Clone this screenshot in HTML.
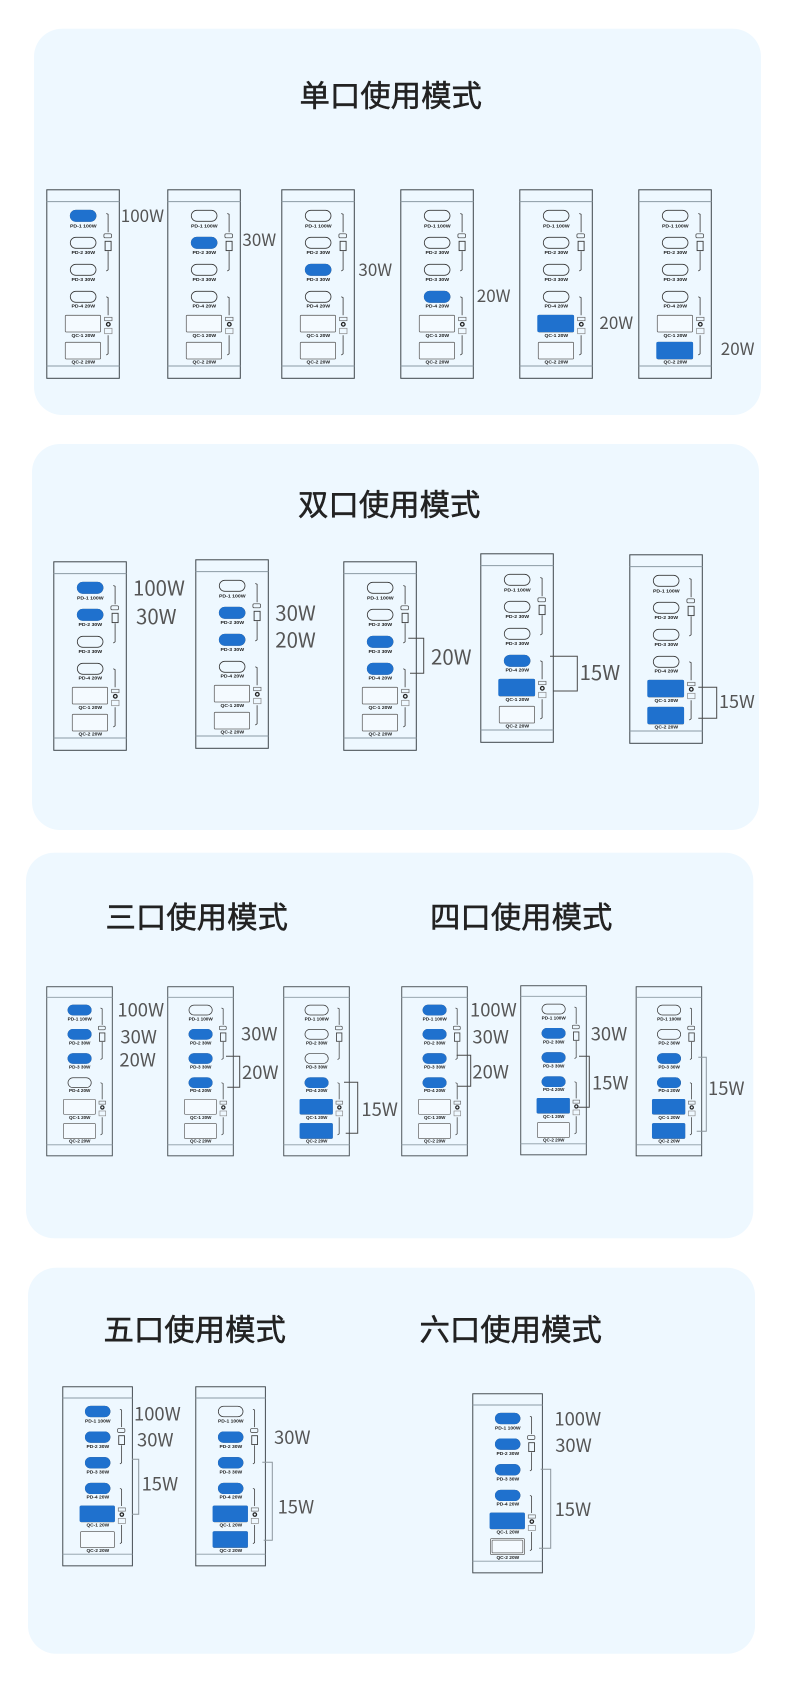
<!DOCTYPE html>
<html lang="zh"><head><meta charset="utf-8"><title>使用模式</title>
<style>
html,body{margin:0;padding:0;background:#fff}
svg{display:block}
.t{font-family:"Liberation Sans","Noto Sans CJK SC",sans-serif;font-size:30.4px;fill:#222;stroke:#222;stroke-width:.5px}
.w{font-family:"Noto Sans CJK SC","Liberation Sans",sans-serif;fill:#555}
.a{font-size:17px}.b{font-size:20.4px}.c{font-size:18.4px}.e{font-size:18px}
.l text{font-family:"Liberation Sans",sans-serif;font-weight:700;font-size:4.7px;fill:#1b1b1b;text-anchor:middle}
.k{fill:none;stroke:#4a4a4a;stroke-width:1}
.g{fill:none;stroke:#8d979e;stroke-width:1}
</style></head><body>
<svg xmlns="http://www.w3.org/2000/svg" width="790" height="1706" viewBox="0 0 790 1706">
<defs>
<g id="d" fill="none">
<rect x=".5" y=".5" width="72.5" height="188.5" stroke="#3f464b" stroke-width="1"/>
<path d="M.5 12.3H73M.5 176.7H73" stroke="#8b9aa4" stroke-width="1"/>
<g stroke="#3a3a3a" stroke-width=".8">
<rect x="24" y="21" width="25.7" height="11" rx="5.5"/>
<rect x="24" y="48" width="25.7" height="11" rx="5.5"/>
<rect x="24" y="75" width="25.7" height="11" rx="5.5"/>
<rect x="24" y="102" width="25.7" height="11" rx="5.5"/>
<rect x="19" y="126" width="35.3" height="16.7" rx="1" stroke="#666" fill="#f4faff"/>
<rect x="19" y="153" width="35.3" height="16.7" rx="1" stroke="#666" fill="#f4faff"/>
<path d="M60 24.2l1.8.8V43M61.8 62V80.5L60 81.7M60 107.5l1.8.8V126M61.8 146V164.5L60 165.7"/>
<rect x="57.6" y="44.5" width="7.6" height="4" rx="1.2" stroke-width=".7"/>
<rect x="58.8" y="52" width="6" height="9.3" stroke-width=".9"/>
<rect x="58.3" y="128" width="7.4" height="3.4" stroke="#666" stroke-width=".7"/>
<circle cx="62" cy="135" r="1.8" stroke="#222" stroke-width="1.3"/>
<rect x="58.3" y="139" width="7.4" height="5.4" stroke="#888" stroke-width=".7"/>
</g>
</g>
<rect id="p1" x="23.6" y="20.6" width="26.4" height="11.8" rx="5.9" fill="#1f71ce"/>
<rect id="p2" x="23.6" y="47.6" width="26.4" height="11.8" rx="5.9" fill="#1f71ce"/>
<rect id="p3" x="23.6" y="74.6" width="26.4" height="11.8" rx="5.9" fill="#1f71ce"/>
<rect id="p4" x="23.6" y="101.6" width="26.4" height="11.8" rx="5.9" fill="#1f71ce"/>
<rect id="q1" x="18" y="125.6" width="36.8" height="17.2" rx="1.6" fill="#1f71ce"/>
<rect id="q2" x="18" y="152.6" width="36.8" height="17.2" rx="1.6" fill="#1f71ce"/>
</defs>

<rect x="34" y="28.7" width="727" height="386.3" rx="28" fill="#eef8ff"/>
<rect x="32" y="444" width="727" height="386" rx="28" fill="#eef8ff"/>
<rect x="26" y="852.7" width="727.3" height="385.6" rx="28" fill="#eef8ff"/>
<rect x="28" y="1267.7" width="727" height="386" rx="28" fill="#eef8ff"/>

<text class="t" x="299.5" y="106.5">单口使用模式</text>
<text class="t" x="298" y="515.5">双口使用模式</text>
<text class="t" x="105.5" y="928">三口使用模式</text>
<text class="t" x="430" y="928">四口使用模式</text>
<text class="t" x="103.5" y="1340.5">五口使用模式</text>
<text class="t" x="419.5" y="1340.5">六口使用模式</text>

<!-- section 1 -->
<g transform="translate(46.3 189.3)"><use href="#d"/><use href="#p1"/><g class="l"><text x="37" y="38" textLength="26.7" lengthAdjust="spacingAndGlyphs">PD-1 100W</text><text x="37" y="64.7" textLength="23.7" lengthAdjust="spacingAndGlyphs">PD-2 30W</text><text x="37" y="91.7" textLength="23.7" lengthAdjust="spacingAndGlyphs">PD-3 30W</text><text x="37" y="118" textLength="23.7" lengthAdjust="spacingAndGlyphs">PD-4 20W</text><text x="37" y="147.7" textLength="23.7" lengthAdjust="spacingAndGlyphs">QC-1 20W</text><text x="37" y="174.4" textLength="23.7" lengthAdjust="spacingAndGlyphs">QC-2 20W</text></g></g>
<g transform="translate(167.3 189.3)"><use href="#d"/><use href="#p2"/><g class="l"><text x="37" y="38" textLength="26.7" lengthAdjust="spacingAndGlyphs">PD-1 100W</text><text x="37" y="64.7" textLength="23.7" lengthAdjust="spacingAndGlyphs">PD-2 30W</text><text x="37" y="91.7" textLength="23.7" lengthAdjust="spacingAndGlyphs">PD-3 30W</text><text x="37" y="118" textLength="23.7" lengthAdjust="spacingAndGlyphs">PD-4 20W</text><text x="37" y="147.7" textLength="23.7" lengthAdjust="spacingAndGlyphs">QC-1 20W</text><text x="37" y="174.4" textLength="23.7" lengthAdjust="spacingAndGlyphs">QC-2 20W</text></g></g>
<g transform="translate(281.3 189.3)"><use href="#d"/><use href="#p3"/><g class="l"><text x="37" y="38" textLength="26.7" lengthAdjust="spacingAndGlyphs">PD-1 100W</text><text x="37" y="64.7" textLength="23.7" lengthAdjust="spacingAndGlyphs">PD-2 30W</text><text x="37" y="91.7" textLength="23.7" lengthAdjust="spacingAndGlyphs">PD-3 30W</text><text x="37" y="118" textLength="23.7" lengthAdjust="spacingAndGlyphs">PD-4 20W</text><text x="37" y="147.7" textLength="23.7" lengthAdjust="spacingAndGlyphs">QC-1 20W</text><text x="37" y="174.4" textLength="23.7" lengthAdjust="spacingAndGlyphs">QC-2 20W</text></g></g>
<g transform="translate(400.3 189.3)"><use href="#d"/><use href="#p4"/><g class="l"><text x="37" y="38" textLength="26.7" lengthAdjust="spacingAndGlyphs">PD-1 100W</text><text x="37" y="64.7" textLength="23.7" lengthAdjust="spacingAndGlyphs">PD-2 30W</text><text x="37" y="91.7" textLength="23.7" lengthAdjust="spacingAndGlyphs">PD-3 30W</text><text x="37" y="118" textLength="23.7" lengthAdjust="spacingAndGlyphs">PD-4 20W</text><text x="37" y="147.7" textLength="23.7" lengthAdjust="spacingAndGlyphs">QC-1 20W</text><text x="37" y="174.4" textLength="23.7" lengthAdjust="spacingAndGlyphs">QC-2 20W</text></g></g>
<g transform="translate(519.3 189.3)"><use href="#d"/><use href="#q1"/><g class="l"><text x="37" y="38" textLength="26.7" lengthAdjust="spacingAndGlyphs">PD-1 100W</text><text x="37" y="64.7" textLength="23.7" lengthAdjust="spacingAndGlyphs">PD-2 30W</text><text x="37" y="91.7" textLength="23.7" lengthAdjust="spacingAndGlyphs">PD-3 30W</text><text x="37" y="118" textLength="23.7" lengthAdjust="spacingAndGlyphs">PD-4 20W</text><text x="37" y="147.7" textLength="23.7" lengthAdjust="spacingAndGlyphs">QC-1 20W</text><text x="37" y="174.4" textLength="23.7" lengthAdjust="spacingAndGlyphs">QC-2 20W</text></g></g>
<g transform="translate(638.3 189.3)"><use href="#d"/><use href="#q2"/><g class="l"><text x="37" y="38" textLength="26.7" lengthAdjust="spacingAndGlyphs">PD-1 100W</text><text x="37" y="64.7" textLength="23.7" lengthAdjust="spacingAndGlyphs">PD-2 30W</text><text x="37" y="91.7" textLength="23.7" lengthAdjust="spacingAndGlyphs">PD-3 30W</text><text x="37" y="118" textLength="23.7" lengthAdjust="spacingAndGlyphs">PD-4 20W</text><text x="37" y="147.7" textLength="23.7" lengthAdjust="spacingAndGlyphs">QC-1 20W</text><text x="37" y="174.4" textLength="23.7" lengthAdjust="spacingAndGlyphs">QC-2 20W</text></g></g>
<g class="w a">
<text x="120.8" y="222">100W</text><text x="242.4" y="246">30W</text><text x="358.4" y="276">30W</text><text x="476.8" y="302">20W</text><text x="599.4" y="329">20W</text><text x="720.8" y="355">20W</text>
</g>

<!-- section 2 -->
<g transform="translate(53.3 561.3)"><use href="#d"/><use href="#p1"/><use href="#p2"/><g class="l"><text x="37" y="38" textLength="26.7" lengthAdjust="spacingAndGlyphs">PD-1 100W</text><text x="37" y="64.7" textLength="23.7" lengthAdjust="spacingAndGlyphs">PD-2 30W</text><text x="37" y="91.7" textLength="23.7" lengthAdjust="spacingAndGlyphs">PD-3 30W</text><text x="37" y="118" textLength="23.7" lengthAdjust="spacingAndGlyphs">PD-4 20W</text><text x="37" y="147.7" textLength="23.7" lengthAdjust="spacingAndGlyphs">QC-1 20W</text><text x="37" y="174.4" textLength="23.7" lengthAdjust="spacingAndGlyphs">QC-2 20W</text></g></g>
<g transform="translate(195.3 559.3)"><use href="#d"/><use href="#p2"/><use href="#p3"/><g class="l"><text x="37" y="38" textLength="26.7" lengthAdjust="spacingAndGlyphs">PD-1 100W</text><text x="37" y="64.7" textLength="23.7" lengthAdjust="spacingAndGlyphs">PD-2 30W</text><text x="37" y="91.7" textLength="23.7" lengthAdjust="spacingAndGlyphs">PD-3 30W</text><text x="37" y="118" textLength="23.7" lengthAdjust="spacingAndGlyphs">PD-4 20W</text><text x="37" y="147.7" textLength="23.7" lengthAdjust="spacingAndGlyphs">QC-1 20W</text><text x="37" y="174.4" textLength="23.7" lengthAdjust="spacingAndGlyphs">QC-2 20W</text></g></g>
<g transform="translate(343.3 561.3)"><use href="#d"/><use href="#p3"/><use href="#p4"/><g class="l"><text x="37" y="38" textLength="26.7" lengthAdjust="spacingAndGlyphs">PD-1 100W</text><text x="37" y="64.7" textLength="23.7" lengthAdjust="spacingAndGlyphs">PD-2 30W</text><text x="37" y="91.7" textLength="23.7" lengthAdjust="spacingAndGlyphs">PD-3 30W</text><text x="37" y="118" textLength="23.7" lengthAdjust="spacingAndGlyphs">PD-4 20W</text><text x="37" y="147.7" textLength="23.7" lengthAdjust="spacingAndGlyphs">QC-1 20W</text><text x="37" y="174.4" textLength="23.7" lengthAdjust="spacingAndGlyphs">QC-2 20W</text></g></g>
<g transform="translate(480.3 553.3)"><use href="#d"/><use href="#p4"/><use href="#q1"/><g class="l"><text x="37" y="38" textLength="26.7" lengthAdjust="spacingAndGlyphs">PD-1 100W</text><text x="37" y="64.7" textLength="23.7" lengthAdjust="spacingAndGlyphs">PD-2 30W</text><text x="37" y="91.7" textLength="23.7" lengthAdjust="spacingAndGlyphs">PD-3 30W</text><text x="37" y="118" textLength="23.7" lengthAdjust="spacingAndGlyphs">PD-4 20W</text><text x="37" y="147.7" textLength="23.7" lengthAdjust="spacingAndGlyphs">QC-1 20W</text><text x="37" y="174.4" textLength="23.7" lengthAdjust="spacingAndGlyphs">QC-2 20W</text></g></g>
<g transform="translate(629.3 554.3)"><use href="#d"/><use href="#q1"/><use href="#q2"/><g class="l"><text x="37" y="38" textLength="26.7" lengthAdjust="spacingAndGlyphs">PD-1 100W</text><text x="37" y="64.7" textLength="23.7" lengthAdjust="spacingAndGlyphs">PD-2 30W</text><text x="37" y="91.7" textLength="23.7" lengthAdjust="spacingAndGlyphs">PD-3 30W</text><text x="37" y="118" textLength="23.7" lengthAdjust="spacingAndGlyphs">PD-4 20W</text><text x="37" y="147.7" textLength="23.7" lengthAdjust="spacingAndGlyphs">QC-1 20W</text><text x="37" y="174.4" textLength="23.7" lengthAdjust="spacingAndGlyphs">QC-2 20W</text></g></g>
<g class="w b">
<text x="133" y="595.7">100W</text><text x="136" y="624">30W</text><text x="275.3" y="620.7">30W</text><text x="275.3" y="647.4">20W</text><text x="431" y="664.7">20W</text><text x="579.6" y="680">15W</text>
</g>
<text class="w e" x="719" y="708">15W</text>
<path class="k" d="M408.3 638.3H423.7V673.3H410"/>
<path class="k" d="M550 656.3H577.3V691H553.3"/>
<path class="k" d="M698.3 687.3H716.7V718.3H698.3"/>

<!-- section 3 -->
<g transform="translate(46.3 986.3) scale(.904 .897)"><use href="#d"/><use href="#p1"/><use href="#p2"/><use href="#p3"/><g class="l"><text x="37" y="38" textLength="26.7" lengthAdjust="spacingAndGlyphs">PD-1 100W</text><text x="37" y="64.7" textLength="23.7" lengthAdjust="spacingAndGlyphs">PD-2 30W</text><text x="37" y="91.7" textLength="23.7" lengthAdjust="spacingAndGlyphs">PD-3 30W</text><text x="37" y="118" textLength="23.7" lengthAdjust="spacingAndGlyphs">PD-4 20W</text><text x="37" y="147.7" textLength="23.7" lengthAdjust="spacingAndGlyphs">QC-1 20W</text><text x="37" y="174.4" textLength="23.7" lengthAdjust="spacingAndGlyphs">QC-2 20W</text></g></g>
<g transform="translate(167.3 986.3) scale(.904 .897)"><use href="#d"/><use href="#p2"/><use href="#p3"/><use href="#p4"/><g class="l"><text x="37" y="38" textLength="26.7" lengthAdjust="spacingAndGlyphs">PD-1 100W</text><text x="37" y="64.7" textLength="23.7" lengthAdjust="spacingAndGlyphs">PD-2 30W</text><text x="37" y="91.7" textLength="23.7" lengthAdjust="spacingAndGlyphs">PD-3 30W</text><text x="37" y="118" textLength="23.7" lengthAdjust="spacingAndGlyphs">PD-4 20W</text><text x="37" y="147.7" textLength="23.7" lengthAdjust="spacingAndGlyphs">QC-1 20W</text><text x="37" y="174.4" textLength="23.7" lengthAdjust="spacingAndGlyphs">QC-2 20W</text></g></g>
<g transform="translate(283.3 986.3) scale(.904 .897)"><use href="#d"/><use href="#p4"/><use href="#q1"/><use href="#q2"/><g class="l"><text x="37" y="38" textLength="26.7" lengthAdjust="spacingAndGlyphs">PD-1 100W</text><text x="37" y="64.7" textLength="23.7" lengthAdjust="spacingAndGlyphs">PD-2 30W</text><text x="37" y="91.7" textLength="23.7" lengthAdjust="spacingAndGlyphs">PD-3 30W</text><text x="37" y="118" textLength="23.7" lengthAdjust="spacingAndGlyphs">PD-4 20W</text><text x="37" y="147.7" textLength="23.7" lengthAdjust="spacingAndGlyphs">QC-1 20W</text><text x="37" y="174.4" textLength="23.7" lengthAdjust="spacingAndGlyphs">QC-2 20W</text></g></g>
<g transform="translate(401.3 986.3) scale(.904 .897)"><use href="#d"/><use href="#p1"/><use href="#p2"/><use href="#p3"/><use href="#p4"/><g class="l"><text x="37" y="38" textLength="26.7" lengthAdjust="spacingAndGlyphs">PD-1 100W</text><text x="37" y="64.7" textLength="23.7" lengthAdjust="spacingAndGlyphs">PD-2 30W</text><text x="37" y="91.7" textLength="23.7" lengthAdjust="spacingAndGlyphs">PD-3 30W</text><text x="37" y="118" textLength="23.7" lengthAdjust="spacingAndGlyphs">PD-4 20W</text><text x="37" y="147.7" textLength="23.7" lengthAdjust="spacingAndGlyphs">QC-1 20W</text><text x="37" y="174.4" textLength="23.7" lengthAdjust="spacingAndGlyphs">QC-2 20W</text></g></g>
<g transform="translate(520.3 985.3) scale(.904 .897)"><use href="#d"/><use href="#p2"/><use href="#p3"/><use href="#p4"/><use href="#q1"/><g class="l"><text x="37" y="38" textLength="26.7" lengthAdjust="spacingAndGlyphs">PD-1 100W</text><text x="37" y="64.7" textLength="23.7" lengthAdjust="spacingAndGlyphs">PD-2 30W</text><text x="37" y="91.7" textLength="23.7" lengthAdjust="spacingAndGlyphs">PD-3 30W</text><text x="37" y="118" textLength="23.7" lengthAdjust="spacingAndGlyphs">PD-4 20W</text><text x="37" y="147.7" textLength="23.7" lengthAdjust="spacingAndGlyphs">QC-1 20W</text><text x="37" y="174.4" textLength="23.7" lengthAdjust="spacingAndGlyphs">QC-2 20W</text></g></g>
<g transform="translate(635.7 986.3) scale(.904 .897)"><use href="#d"/><use href="#p3"/><use href="#p4"/><use href="#q1"/><use href="#q2"/><g class="l"><text x="37" y="38" textLength="26.7" lengthAdjust="spacingAndGlyphs">PD-1 100W</text><text x="37" y="64.7" textLength="23.7" lengthAdjust="spacingAndGlyphs">PD-2 30W</text><text x="37" y="91.7" textLength="23.7" lengthAdjust="spacingAndGlyphs">PD-3 30W</text><text x="37" y="118" textLength="23.7" lengthAdjust="spacingAndGlyphs">PD-4 20W</text><text x="37" y="147.7" textLength="23.7" lengthAdjust="spacingAndGlyphs">QC-1 20W</text><text x="37" y="174.4" textLength="23.7" lengthAdjust="spacingAndGlyphs">QC-2 20W</text></g></g>
<g class="w c">
<text x="117.4" y="1016.7">100W</text><text x="120.4" y="1043.4">30W</text><text x="119.4" y="1066.7">20W</text>
<text x="241" y="1040.7">30W</text><text x="242" y="1079">20W</text><text x="361.4" y="1116">15W</text>
<text x="470" y="1016.7">100W</text><text x="472.4" y="1043.4">30W</text><text x="472.4" y="1078.4">20W</text>
<text x="590.7" y="1040.7">30W</text><text x="592" y="1089.7">15W</text><text x="708" y="1095">15W</text>
</g>
<path class="k" d="M226 1056.3H239.7V1087.3H227.3"/>
<path class="k" d="M344 1082.3H357.7V1133.3H345.7"/>
<path class="k" d="M456.7 1055.3H470.7V1086.3H457.7"/>
<path class="k" d="M579 1056.3H589.3V1107.3H578.3"/>
<path class="g" d="M698.3 1057.3H706.3V1131.3H696.7"/>

<!-- section 4 -->
<g transform="translate(62.3 1386.3) scale(.96 .95)"><use href="#d"/><use href="#p1"/><use href="#p2"/><use href="#p3"/><use href="#p4"/><use href="#q1"/><g class="l"><text x="37" y="38" textLength="26.7" lengthAdjust="spacingAndGlyphs">PD-1 100W</text><text x="37" y="64.7" textLength="23.7" lengthAdjust="spacingAndGlyphs">PD-2 30W</text><text x="37" y="91.7" textLength="23.7" lengthAdjust="spacingAndGlyphs">PD-3 30W</text><text x="37" y="118" textLength="23.7" lengthAdjust="spacingAndGlyphs">PD-4 20W</text><text x="37" y="147.7" textLength="23.7" lengthAdjust="spacingAndGlyphs">QC-1 20W</text><text x="37" y="174.4" textLength="23.7" lengthAdjust="spacingAndGlyphs">QC-2 20W</text></g></g>
<g transform="translate(195.3 1386.3) scale(.96 .95)"><use href="#d"/><use href="#p2"/><use href="#p3"/><use href="#p4"/><use href="#q1"/><use href="#q2"/><g class="l"><text x="37" y="38" textLength="26.7" lengthAdjust="spacingAndGlyphs">PD-1 100W</text><text x="37" y="64.7" textLength="23.7" lengthAdjust="spacingAndGlyphs">PD-2 30W</text><text x="37" y="91.7" textLength="23.7" lengthAdjust="spacingAndGlyphs">PD-3 30W</text><text x="37" y="118" textLength="23.7" lengthAdjust="spacingAndGlyphs">PD-4 20W</text><text x="37" y="147.7" textLength="23.7" lengthAdjust="spacingAndGlyphs">QC-1 20W</text><text x="37" y="174.4" textLength="23.7" lengthAdjust="spacingAndGlyphs">QC-2 20W</text></g></g>
<g transform="translate(472.3 1393.3) scale(.96 .95)"><use href="#d"/><use href="#p1"/><use href="#p2"/><use href="#p3"/><use href="#p4"/><use href="#q1"/><rect x="20.6" y="154.6" width="32" height="13.4" rx="1" fill="none" stroke="#666" stroke-width=".8"/><g class="l"><text x="37" y="38" textLength="26.7" lengthAdjust="spacingAndGlyphs">PD-1 100W</text><text x="37" y="64.7" textLength="23.7" lengthAdjust="spacingAndGlyphs">PD-2 30W</text><text x="37" y="91.7" textLength="23.7" lengthAdjust="spacingAndGlyphs">PD-3 30W</text><text x="37" y="118" textLength="23.7" lengthAdjust="spacingAndGlyphs">PD-4 20W</text><text x="37" y="147.7" textLength="23.7" lengthAdjust="spacingAndGlyphs">QC-1 20W</text><text x="37" y="174.4" textLength="23.7" lengthAdjust="spacingAndGlyphs">QC-2 20W</text></g></g>
<g class="w c">
<text x="134" y="1420.7">100W</text><text x="137" y="1446.7">30W</text><text x="141.6" y="1490.7">15W</text>
<text x="274" y="1444">30W</text><text x="277.6" y="1513.4">15W</text>
<text x="554.4" y="1425.7">100W</text><text x="555.2" y="1452">30W</text><text x="554.6" y="1516">15W</text>
</g>
<path class="g" d="M132 1459.3H138.7V1514.3H132"/>
<path class="g" d="M262.3 1462.3H272.3V1540.3H263.7"/>
<path class="g" d="M540.7 1469.3H550.7V1548.3H539"/>
</svg>
</body></html>
